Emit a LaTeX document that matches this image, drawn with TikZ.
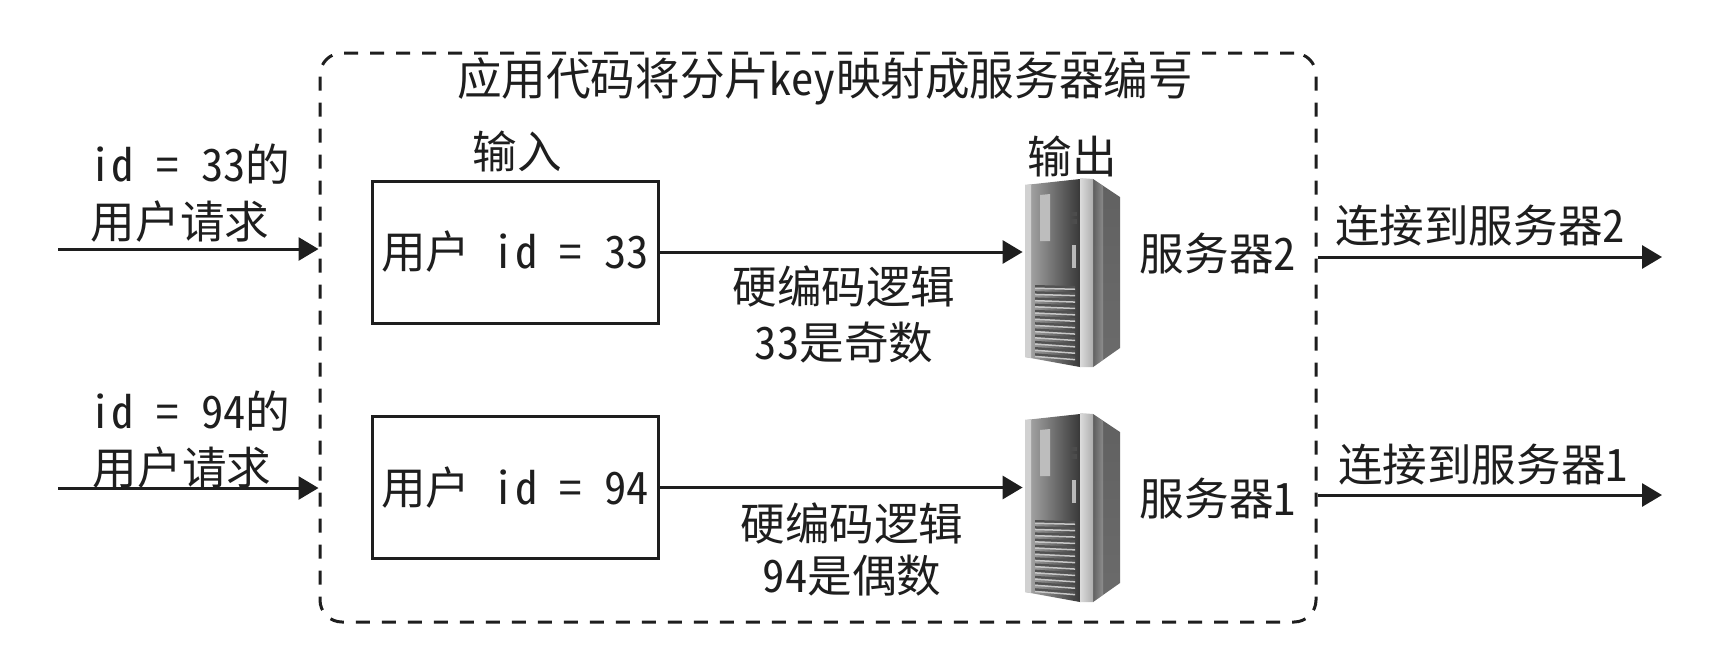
\documentclass[tikz,border=0pt]{standalone}
\usepackage{fontspec}
\setmainfont{Noto Sans CJK SC}
\newfontfamily\halfmono{Noto Sans CJK SC}[RawFeature=+hwid]
\newcommand{\hw}[1]{{\halfmono #1}}
\usetikzlibrary{arrows.meta}
\definecolor{ink}{HTML}{1E1E1E}
\tikzset{
  x=0.5pt,y=-0.5pt,
  lbl/.style={inner sep=0pt,text=ink,font=\fontsize{22.3pt}{26pt}\selectfont,align=center},
  framebox/.style={draw=ink,line width=1.5pt,dash pattern=on 7pt off 6pt,rounded corners=11pt,inner sep=0pt,minimum width=498pt,minimum height=284.5pt},
  inbox/.style={draw=ink,line width=1.5pt,inner sep=0pt,minimum width=143pt,minimum height=71pt,text=ink,font=\fontsize{22.3pt}{26pt}\selectfont},
  flow/.style={draw=ink,line width=1.5pt,-{Triangle[length=10pt,width=11.5pt]}},
  srvbox/.style={inner sep=0pt,minimum width=48pt,minimum height=95pt},
  pics/servertower/.style={code={
    % side
    \shade[top color=black!62,middle color=black!8,bottom color=black!58] (83,9) -- (110,27) -- (110,178) -- (83,197) -- cycle;
    \shade[left color=black!65,right color=black!30,opacity=.5] (83,9) -- (93,16) -- (93,190) -- (83,197) -- cycle;
    % front
    \shade[left color=black!32,middle color=black!38,right color=black!78] (15,15) -- (70,9) -- (70,197) -- (15,187) -- cycle;
    \fill[black!18] (15,15) -- (21,14.5) -- (21,188) -- (15,187) -- cycle;
    % pillar
    \shade[left color=black!14,right color=black!32] (70,8) -- (83,9) -- (83,197) -- (70,197) -- cycle;
    % window
    \fill[black!26] (30,25) -- (40,24) -- (40,71) -- (30,71) -- cycle;
    % buttons
    \fill[black!70] (61,42) rectangle (67,46);
    \fill[black!70] (61,49) rectangle (67,54);
    \fill[black!28] (62,75) rectangle (66,98);
    % vents
    \foreach \v in {0,...,11}{
      \fill[black!68] (25,{115+\v*6.2}) -- (65,{116+\v*6.4}) -- (65,{118.5+\v*6.4}) -- (25,{117.5+\v*6.2}) -- cycle;
      \fill[black!22] (25,{117.5+\v*6.2}) -- (65,{118.5+\v*6.4}) -- (65,{120+\v*6.4}) -- (25,{119+\v*6.2}) -- cycle;
    }
  }}
}
\begin{document}
\begin{tikzpicture}
\useasboundingbox (0,0) rectangle (1718,650);
\fill[white] (0,0) rectangle (1718,650);

\node[framebox] (frame) at (818,337.5) {};
\node[lbl] (title) at (825,81) {应用代码将分片\hw{key}映射成服务器编号};

\node[lbl] (inlabel) at (517,151) {输入};
\node[lbl] (outlabel) at (1072,156) {输出};

\node[inbox] (box1) at (515,252) {\raisebox{-2pt}{用户\hw{\ id = 33}}};
\node[inbox] (box2) at (515,487.5) {\raisebox{-2.5pt}{用户\hw{\ id = 94}}};

\pic at (1010,170) {servertower};
\pic at (1010,405) {servertower};
\node[srvbox] (srv1) at (1071,272) {};
\node[srvbox] (srv2) at (1071,505) {};

\node[lbl] (req1a) at (190,164) {\hw{id = 33}的};
\node[lbl] (req1b) at (180,222) {用户请求};
\node[lbl] (req2a) at (190,411) {\hw{id = 94}的};
\node[lbl] (req2b) at (182,468) {用户请求};

\node[lbl] (logic1a) at (844,286) {硬编码逻辑};
\node[lbl] (logic1b) at (844,343) {\hw{33}是奇数};
\node[lbl] (logic2a) at (852,523) {硬编码逻辑};
\node[lbl] (logic2b) at (852,576) {\hw{94}是偶数};

\node[lbl] (name2) at (1218,254) {服务器\hw{2}};
\node[lbl] (name1) at (1218,499) {服务器\hw{1}};

\node[lbl] (conn2) at (1480,226) {连接到服务器\hw{2}};
\node[lbl] (conn1) at (1483,465) {连接到服务器\hw{1}};

\coordinate (in1) at (58,249);
\coordinate (in2) at (58,488);
\coordinate (out1) at (1662,257);
\coordinate (out2) at (1662,495);

\draw[flow] (in1) -- (in1 -| frame.west);
\draw[flow] (in2) -- (in2 -| frame.west);
\draw[flow] (box1.east) -- (box1.east -| srv1.west);
\draw[flow] (box2.east) -- (box2.east -| srv2.west);
\draw[flow] (out1 -| frame.east) -- (out1);
\draw[flow] (out2 -| frame.east) -- (out2);
\end{tikzpicture}
\end{document}
